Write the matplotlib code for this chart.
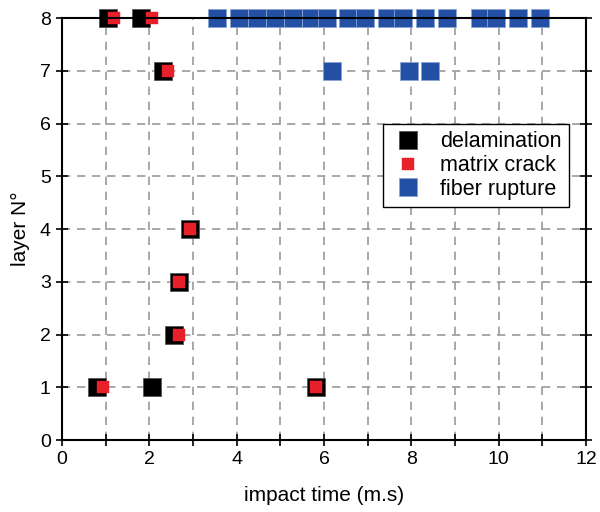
import matplotlib
matplotlib.use("Agg")
import matplotlib.pyplot as plt
from matplotlib.ticker import MultipleLocator

plt.rcParams['font.family'] = ['Liberation Sans', 'DejaVu Sans']

# delamination
delam_x = [1.05, 1.81, 2.31, 2.93, 2.68, 2.56, 0.81, 2.06, 5.82]
delam_y = [8, 8, 7, 4, 3, 2, 1, 1, 1]
# matrix crack
crack_x = [1.18, 2.06, 2.43, 2.93, 2.68, 2.68, 0.94, 5.82]
crack_y = [8, 8, 7, 4, 3, 2, 1, 1]
# fiber rupture
fiber_x = [3.55, 4.05, 4.47, 4.88, 5.29, 5.70, 6.07, 6.55, 6.94, 7.44, 7.81,
           8.31, 8.82, 9.57, 9.94, 10.44, 10.95, 6.18, 7.95, 8.43]
fiber_y = [8] * 17 + [7, 7, 7]

fig = plt.figure(figsize=(6.0, 5.12), dpi=100)
ax = fig.add_axes([0.1033, 0.1406, 0.8734, 0.8242])

ax.plot(delam_x, delam_y, ls='none', marker='s', ms=13, mfc='black',
        mec='#555555', mew=0.6, clip_on=False, zorder=3, label='delamination')
ax.plot(crack_x, crack_y, ls='none', marker='s', ms=8.6, mfc='#E8202A',
        mec='#E8202A', mew=0.3, clip_on=False, zorder=4, label='matrix crack')
ax.plot(fiber_x, fiber_y, ls='none', marker='s', ms=13, mfc='#2350A5',
        mec='#8aa4d4', mew=0.6, clip_on=False, zorder=3, label='fiber rupture')

ax.set_xlim(0, 12)
ax.set_ylim(0, 8)
ax.xaxis.set_major_locator(MultipleLocator(2))
ax.xaxis.set_minor_locator(MultipleLocator(1))
ax.yaxis.set_major_locator(MultipleLocator(1))

ax.grid(True, which='both', color='#999999', ls=(0, (5, 4)), lw=1.2, zorder=1)
ax.set_axisbelow(True)

ax.tick_params(which='both', direction='inout', length=9, width=1.2,
               labelsize=14, right=True, top=False, labelright=False)
for s in ax.spines.values():
    s.set_linewidth(1.5)
    s.set_zorder(5)

ax.set_xlabel('impact time (m.s)', fontsize=15, labelpad=13)
ax.set_ylabel('layer N°', fontsize=15, labelpad=7)

leg = ax.legend(loc='upper left', bbox_to_anchor=(0.6126, 0.749), fontsize=15.5,
                frameon=True, fancybox=False, edgecolor='black',
                borderpad=0.35, labelspacing=0.12, handletextpad=0.7,
                handlelength=1.6, borderaxespad=0)
leg.get_frame().set_linewidth(1.0)
leg.get_frame().set_alpha(1)

fig.savefig('out.png', dpi=100)
